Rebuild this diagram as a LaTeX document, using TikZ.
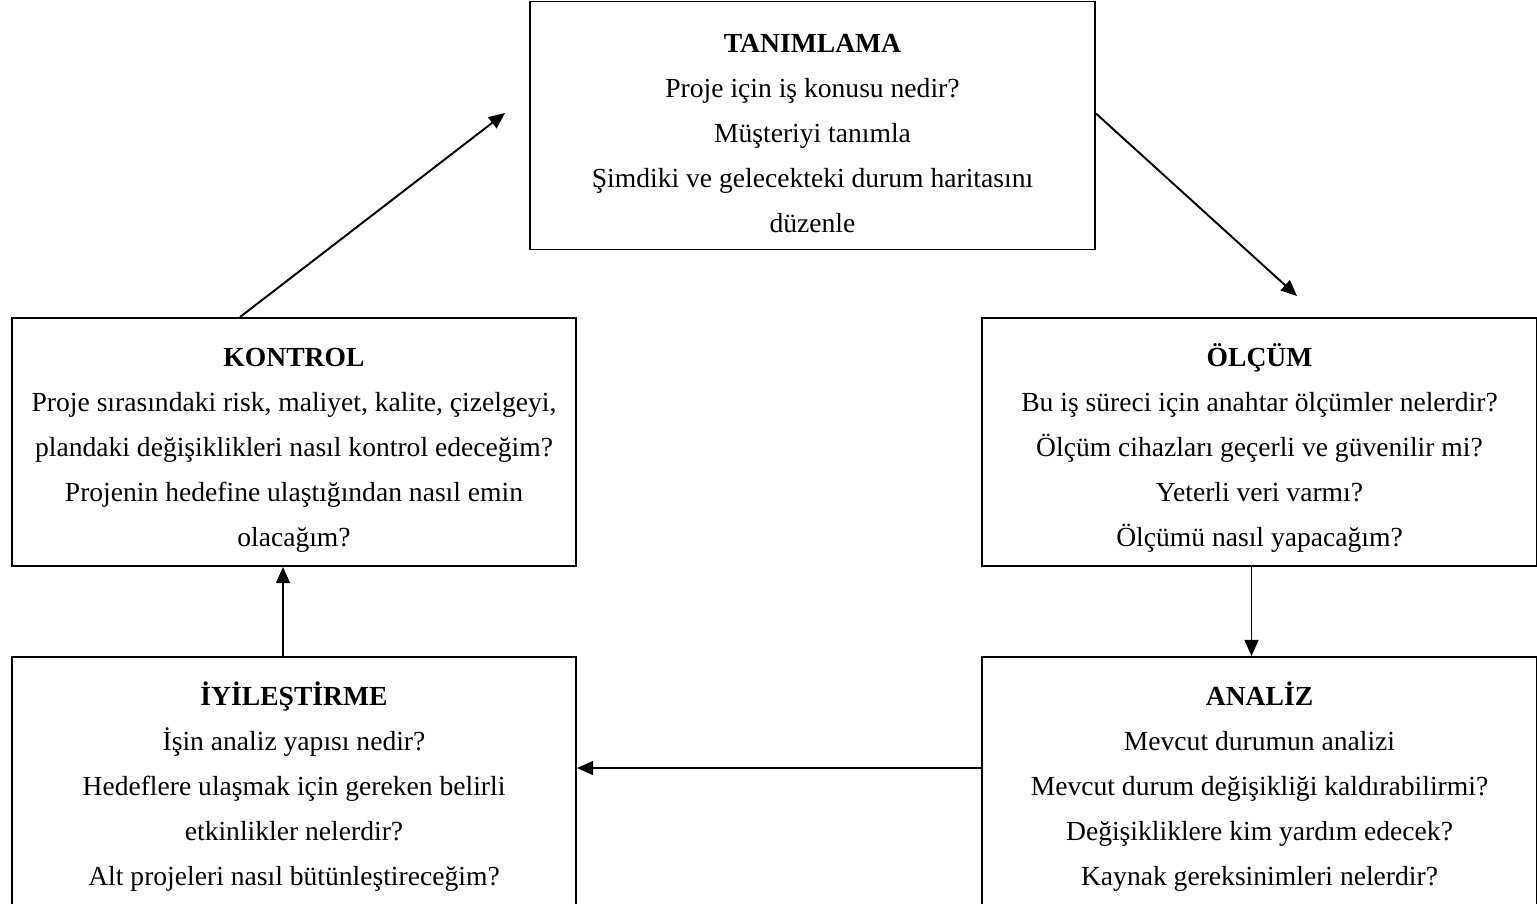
\documentclass[tikz,border=0pt]{standalone}
\usepackage{fontspec}
\setmainfont{Liberation Serif}
\usepackage{tikz}
\usetikzlibrary{arrows.meta, calc, positioning}

\newcommand{\stagetitle}[1]{\rule{0pt}{15pt}\textbf{#1}}

\tikzset{
  stagebox/.style={draw=black, line width=0.85pt, align=center, text=black,
    minimum width=#1*0.435pt, minimum height=248*0.435pt, inner sep=0pt,
    font=\fontsize{12}{19.6}\selectfont},
  flow/.style={-{Triangle[length=7pt, width=6pt]}, line width=0.85pt}
}

\begin{document}
\begin{tikzpicture}[x=0.435pt, y=-0.435pt]
  \useasboundingbox (0,0) rectangle (1537,903);

  \node[stagebox=565] (tanimlama)   at (812.5, 125.5) {\stagetitle{TANIMLAMA}\\Proje için iş konusu nedir?\\Müşteriyi tanımla\\Şimdiki ve gelecekteki durum haritasını\\düzenle};
  \node[stagebox=564] (kontrol)     at (294, 442)     {\stagetitle{KONTROL}\\Proje sırasındaki risk, maliyet, kalite, çizelgeyi,\\plandaki değişiklikleri nasıl kontrol edeceğim?\\Projenin hedefine ulaştığından nasıl emin\\olacağım?};
  \node[stagebox=555] (olcum)       at (1259.5, 442)  {\stagetitle{ÖLÇÜM}\\Bu iş süreci için anahtar ölçümler nelerdir?\\Ölçüm cihazları geçerli ve güvenilir mi?\\Yeterli veri varmı?\\Ölçümü nasıl yapacağım?};
  \node[stagebox=564] (iyilestirme) at (294, 781)     {\stagetitle{İYİLEŞTİRME}\\İşin analiz yapısı nedir?\\Hedeflere ulaşmak için gereken belirli\\etkinlikler nelerdir?\\Alt projeleri nasıl bütünleştireceğim?};
  \node[stagebox=555] (analiz)      at (1259.5, 781)  {\stagetitle{ANALİZ}\\Mevcut durumun analizi\\Mevcut durum değişikliği kaldırabilirmi?\\Değişikliklere kim yardım edecek?\\Kaynak gereksinimleri nelerdir?};

  % free arrow ends
  \coordinate (tipA) at (505, 113);
  \coordinate (tipB) at (1297, 296);
  \coordinate (outC) at ($(olcum.south)+(-8,0)$);
  \coordinate (outD) at ($(analiz.west)+(0,-13)$);
  \coordinate (outE) at ($(iyilestirme.north)+(-11,0)$);

  \draw[flow] ($(kontrol.north)+(-54,0)$) -- (tipA);
  \draw[flow] ($(tanimlama.east)+(0,-12)$) -- (tipB);
  \draw[flow] (outC) -- (outC |- analiz.north);
  \draw[flow] (outD) -- (outD -| iyilestirme.east);
  \draw[flow] (outE) -- (outE |- kontrol.south);
\end{tikzpicture}
\end{document}
